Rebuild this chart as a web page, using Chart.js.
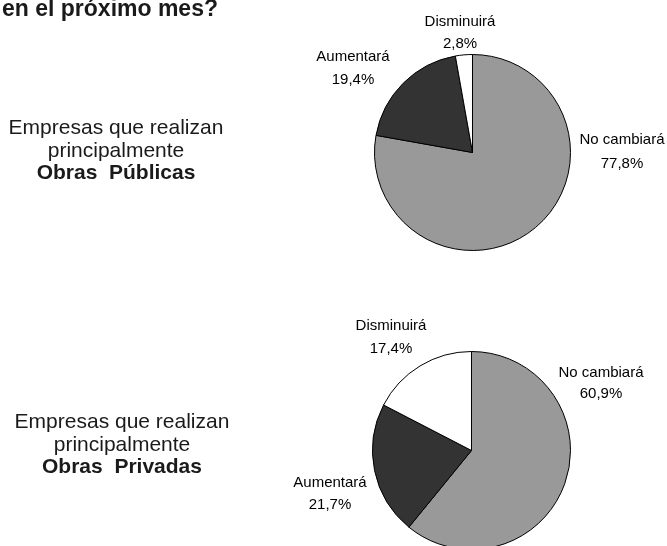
<!DOCTYPE html>
<html>
<head>
<meta charset="utf-8">
<script src="https://cdn.jsdelivr.net/npm/chart.js@4.4.0/dist/chart.umd.min.js"></script>
<style>
  html, body { margin: 0; padding: 0; background: #fff; overflow: hidden; }
  #wrap { position: relative; width: 667px; height: 546px; overflow: hidden; }
  canvas { position: absolute; left: 0; }
</style>
</head>
<body>
<div id="wrap">
  <canvas id="chart-publicas" width="667" height="273" style="top:0"></canvas>
  <canvas id="chart-privadas" width="667" height="300" style="top:273px"></canvas>
</div>
<script>
'use strict';

let categories = ['No cambiará', 'Aumentará', 'Disminuirá'];
let publicasValues = [77.8, 19.4, 2.8];
let privadasValues = [60.9, 21.7, 17.4];
let sliceColors = ['#999999', '#333333', '#ffffff'];

let titleText = 'en el próximo mes?';
let publicasText = ['Empresas que realizan', 'principalmente', 'Obras  Públicas'];
let privadasText = ['Empresas que realizan', 'principalmente', 'Obras  Privadas'];

Chart.defaults.font.family = '"Liberation Sans", Arial, sans-serif';

function formatPct(v) {
  return v.toFixed(1).replace('.', ',') + '%';
}

// labels next to each slice, offsets are from the pie centre
let sliceLabels = {
  id: 'sliceLabels',
  afterDraw(chart, args, opts) {
    let ctx = chart.ctx;
    let arcs = chart.getDatasetMeta(0).data;
    let values = chart.data.datasets[0].data;
    ctx.save();
    ctx.fillStyle = '#000';
    ctx.font = '15px "Liberation Sans", Arial, sans-serif';
    ctx.textAlign = 'center';
    ctx.textBaseline = 'alphabetic';
    for (let i = 0; i < arcs.length; i++) {
      let off = opts.offsets[i];
      ctx.fillText(chart.data.labels[i], arcs[i].x + off[0], arcs[i].y + off[1]);
      ctx.fillText(formatPct(values[i]), arcs[i].x + off[0], arcs[i].y + off[2]);
    }
    ctx.restore();
  }
};

// text block on the left side of each pie
let sideText = {
  id: 'sideText',
  afterDraw(chart, args, opts) {
    let ctx = chart.ctx;
    ctx.save();
    ctx.fillStyle = '#1a1a1a';
    ctx.textAlign = 'center';
    ctx.textBaseline = 'alphabetic';
    for (let i = 0; i < opts.lines.length; i++) {
      let bold = i === opts.lines.length - 1;
      ctx.font = (bold ? 'bold ' : '') + '21px "Liberation Sans", Arial, sans-serif';
      ctx.fillText(opts.lines[i], opts.x, opts.y + i * 22.5);
    }
    if (opts.title) {
      ctx.textAlign = 'left';
      ctx.font = 'bold 23px "Liberation Sans", Arial, sans-serif';
      ctx.fillText(opts.title, 2, 16);
    }
    ctx.restore();
  }
};

function renderPie(canvasId, values, padding, offsets, lines, textX, textY, title) {
  let chartObj = {
    type: 'pie',
    data: {
      labels: categories,
      datasets: [{
        data: values,
        backgroundColor: sliceColors,
        borderColor: '#000',
        borderWidth: 1
      }]
    },
    options: {
      responsive: false,
      animation: false,
      layout: { padding: padding },
      plugins: {
        legend: { display: false },
        tooltip: { enabled: false },
        sliceLabels: { offsets: offsets },
        sideText: { lines: lines, x: textX, y: textY, title: title }
      }
    },
    plugins: [sliceLabels, sideText]
  };
  new Chart(document.getElementById(canvasId), chartObj);//eslint-disable-line
}

renderPie('chart-publicas', publicasValues,
  { left: 374, top: 54, right: 96, bottom: 22 },
  [[149.5, -9, 15], [-119.5, -92, -69], [-12.5, -127, -105]],
  publicasText, 116, 134, titleText);

renderPie('chart-privadas', privadasValues,
  { left: 372, top: 78, right: 96, bottom: 23 },
  [[129.5, -74, -53], [-141.5, 36, 58], [-80.5, -121, -98]],
  privadasText, 122, 155, null);
</script>
</body>
</html>
